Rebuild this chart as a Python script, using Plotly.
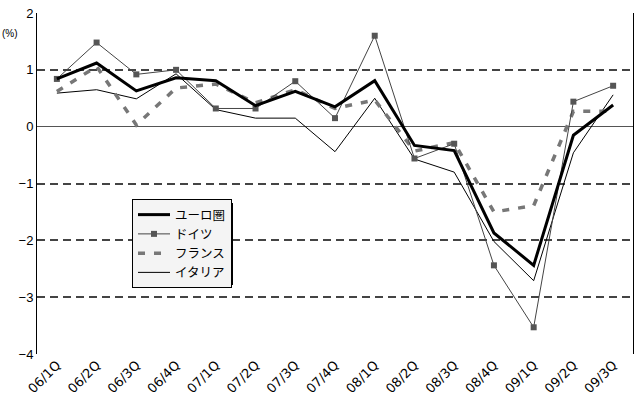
import plotly.graph_objects as go

quarters = ["06/1Q", "06/2Q", "06/3Q", "06/4Q", "07/1Q", "07/2Q", "07/3Q", "07/4Q",
            "08/1Q", "08/2Q", "08/3Q", "08/4Q", "09/1Q", "09/2Q", "09/3Q"]

euro = [0.84, 1.12, 0.63, 0.86, 0.81, 0.37, 0.62, 0.35, 0.81, -0.33, -0.42, -1.87, -2.44, -0.15, 0.38]
germany = [0.84, 1.48, 0.92, 1.00, 0.32, 0.32, 0.80, 0.15, 1.60, -0.56, -0.30, -2.44, -3.53, 0.44, 0.72]
france = [0.62, 1.06, 0.03, 0.68, 0.75, 0.42, 0.65, 0.32, 0.47, -0.43, -0.28, -1.50, -1.39, 0.27, 0.27]
italy = [0.59, 0.65, 0.49, 0.93, 0.30, 0.15, 0.15, -0.44, 0.50, -0.57, -0.80, -2.02, -2.71, -0.46, 0.56]

y_ticks = [2, 1, 0, -1, -2, -3, -4]
y_labels = ["2", "1", "0", "−1", "−2", "−3", "−4"]

fig = go.Figure()
fig.add_trace(go.Scatter(x=quarters, y=italy, name="イタリア", mode="lines",
                         line=dict(color="#000000", width=1)))
fig.add_trace(go.Scatter(x=quarters, y=france, name="フランス", mode="lines",
                         line=dict(color="#777777", width=3.5, dash="7px,9px")))
fig.add_trace(go.Scatter(x=quarters, y=germany, name="ドイツ", mode="lines+markers",
                         line=dict(color="#444444", width=1),
                         marker=dict(symbol="square", size=6, color="#555555")))
fig.add_trace(go.Scatter(x=quarters, y=euro, name="ユーロ圏", mode="lines",
                         line=dict(color="#000000", width=3)))

# drop shadow offset to the lower right of the legend box
px_w, px_h = 596, 341
fig.add_shape(type="rect", xref="paper", yref="paper",
              x0=(136 - 37) / px_w, x1=(233 - 37) / px_w,
              y0=(354 - 285) / px_h, y1=(354 - 203) / px_h,
              fillcolor="#000000", line=dict(width=0), layer="above")

fig.update_layout(
    width=635, height=408,
    margin=dict(l=37, r=2, t=13, b=54),
    paper_bgcolor="white", plot_bgcolor="white",
    font=dict(family="Liberation Sans, Arial, sans-serif", color="#000000", size=12),
    showlegend=True,
    legend=dict(x=(132 - 37) / px_w, y=(354 - 199) / px_h, xanchor="left", yanchor="top",
                bgcolor="#f4f4f4", bordercolor="#000000", borderwidth=1,
                font=dict(family="Noto Sans CJK JP, sans-serif", size=12.5, color="#000000"),
                traceorder="reversed", tracegroupgap=0, itemwidth=32),
    xaxis=dict(type="category", range=[-0.5, 14.5], tickangle=-45,
               showgrid=False, showline=False, zeroline=False, ticks="",
               tickfont=dict(family="DejaVu Sans, sans-serif", size=13)),
    yaxis=dict(range=[-4, 2], tickvals=y_ticks, ticktext=y_labels,
               showgrid=True, gridcolor="#444444", gridwidth=1.5, griddash="8px,5px",
               zeroline=True, zerolinecolor="#555555", zerolinewidth=1.2,
               showline=True, linecolor="#000000", linewidth=1, mirror=True,
               ticks="", tickfont=dict(size=13)),
)

fig.add_annotation(text="(%)", xref="paper", yref="paper", x=-0.045, y=(354 - 34) / px_h,
                   showarrow=False, font=dict(size=10), xanchor="center", yanchor="middle")

fig.write_html("out.html")
